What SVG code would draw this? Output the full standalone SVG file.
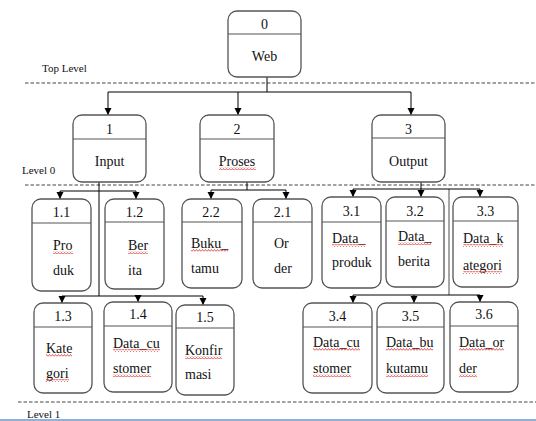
<svg xmlns="http://www.w3.org/2000/svg" width="536" height="421" viewBox="0 0 536 421" font-family="'Liberation Serif', 'DejaVu Serif', serif">
<style>
.box{fill:#fff;stroke:#555;stroke-width:1.3}
.div{stroke:#555;stroke-width:1.2}
.t{font-family:'Liberation Serif','DejaVu Serif',serif;font-size:14px;fill:#111}
.c{text-anchor:middle}
.lv{font-family:'Liberation Serif','DejaVu Serif',serif;font-size:11px;fill:#111}
.dash{stroke:#444;stroke-width:1;stroke-dasharray:3.5 2;fill:none}
.con{stroke:#000;stroke-width:1;fill:none}
.arr{stroke:#000;stroke-width:1;fill:none;marker-end:url(#ah)}
.gray{stroke:#888;stroke-width:1.5;fill:none}
.wv{fill:url(#wave)}
</style>
<defs>
<marker id="ah" markerUnits="userSpaceOnUse" markerWidth="8" markerHeight="8" refX="7" refY="3.5" orient="auto">
<path d="M0,0 L7,3.5 L0,7 z" fill="#000"/>
</marker>
<pattern id="wave" patternUnits="userSpaceOnUse" width="3" height="3">
<path d="M0,2.5 L1.5,0.5 L3,2.5" stroke="#e03030" stroke-width="0.8" fill="none"/>
</pattern>
</defs>
<rect width="536" height="421" fill="#fff"/>

<g id="levels">
<line class="dash" x1="25" y1="83" x2="536" y2="83"/>
<line class="dash" x1="25" y1="185" x2="536" y2="185"/>
<line class="dash" x1="18" y1="402" x2="536" y2="402"/>
<text class="lv" x="42" y="72">Top Level</text>
<text class="lv" x="22" y="174">Level 0</text>
<text class="lv" x="27" y="418">Level 1</text>
<line x1="0" y1="420" x2="536" y2="420" stroke="#6f94cc" stroke-width="1.5"/>
</g>

<g id="connectors">
<path class="con" d="M267 77V92M108 92H411"/>
<path class="arr" d="M108 92V115"/>
<path class="arr" d="M238 92V115"/>
<path class="arr" d="M411 92V115"/>
<path class="con" d="M99 182V296M60 191H136M62 296H203"/>
<path class="arr" d="M60 191V199"/>
<path class="arr" d="M136 191V199"/>
<path class="arr" d="M62 296V303"/>
<path class="arr" d="M138 296V302"/>
<path class="arr" d="M203 296V305"/>
<path class="con" d="M247 182V190M211 190H286"/>
<path class="arr" d="M211 190V199"/>
<path class="arr" d="M286 190V199"/>
<path class="gray" d="M449 189V295"/>
<path class="con" d="M353 189H480M353 295H480"/>
<path class="arr" d="M421 182V197"/>
<path class="arr" d="M353 189V197"/>
<path class="arr" d="M480 189V197"/>
<path class="arr" d="M353 295V303"/>
<path class="arr" d="M414 295V303"/>
<path class="arr" d="M480 295V302"/>
</g>

<g id="n0"><rect class="box" x="228" y="11" width="73" height="66" rx="9"/><line class="div" x1="228" y1="34" x2="301" y2="34"/><text class="t c" x="264.5" y="29">0</text><text class="t c" x="264.5" y="61">Web</text></g>
<g id="n1"><rect class="box" x="73" y="115" width="73" height="67" rx="9"/><line class="div" x1="73" y1="139" x2="146" y2="139"/><text class="t c" x="109.5" y="134">1</text><text class="t c" x="109.5" y="166">Input</text></g>
<g id="n2"><rect class="box" x="200" y="115" width="74" height="67" rx="9"/><line class="div" x1="200" y1="139" x2="274" y2="139"/><text class="t c" x="237" y="134">2</text><text class="t c" x="237" y="166">Proses</text><rect class="wv" x="219" y="167" width="37" height="3"/></g>
<g id="n3"><rect class="box" x="372" y="115" width="73" height="67" rx="9"/><line class="div" x1="372" y1="138" x2="445" y2="138"/><text class="t c" x="408.5" y="134">3</text><text class="t c" x="408.5" y="166">Output</text></g>

<g id="n1_1"><rect class="box" x="32" y="199" width="59" height="92" rx="9"/><line class="div" x1="32" y1="223" x2="91" y2="223"/><text class="t c" x="61.5" y="217">1.1</text><text class="t" x="53" y="250">Pro</text><text class="t" x="53" y="275">duk</text><rect class="wv" x="53" y="251" width="20" height="3"/></g>
<g id="n1_2"><rect class="box" x="105" y="199" width="59" height="90" rx="9"/><line class="div" x1="105" y1="222" x2="164" y2="222"/><text class="t c" x="134.5" y="217">1.2</text><text class="t" x="128" y="250">Ber</text><text class="t" x="128" y="275">ita</text><rect class="wv" x="128" y="251" width="20" height="3"/></g>
<g id="n2_2"><rect class="box" x="182" y="199" width="60" height="89" rx="9"/><line class="div" x1="182" y1="222" x2="242" y2="222"/><text class="t c" x="211" y="217">2.2</text><text class="t" x="191" y="248">Buku_</text><text class="t" x="191" y="273">tamu</text><rect class="wv" x="191" y="249" width="37" height="3"/></g>
<g id="n2_1"><rect class="box" x="253" y="199" width="59" height="89" rx="9"/><line class="div" x1="253" y1="222" x2="312" y2="222"/><text class="t c" x="282.5" y="217">2.1</text><text class="t" x="274" y="248">Or</text><text class="t" x="274" y="273">der</text></g>

<g id="n3_1"><rect class="box" x="322" y="197" width="59" height="91" rx="9"/><line class="div" x1="322" y1="222" x2="381" y2="222"/><text class="t c" x="351.5" y="216">3.1</text><text class="t" x="332" y="243">Data_</text><text class="t" x="332" y="267">produk</text><rect class="wv" x="332" y="244" width="33" height="3"/></g>
<g id="n3_2"><rect class="box" x="386" y="197" width="58" height="90" rx="9"/><line class="div" x1="386" y1="221" x2="444" y2="221"/><text class="t c" x="415" y="216">3.2</text><text class="t" x="398" y="241">Data_</text><text class="t" x="398" y="266">berita</text><rect class="wv" x="398" y="242" width="33" height="3"/></g>
<g id="n3_3"><rect class="box" x="453" y="197" width="65" height="90" rx="9"/><line class="div" x1="453" y1="221" x2="518" y2="221"/><text class="t c" x="485.5" y="216">3.3</text><text class="t" x="463" y="243">Data_k</text><text class="t" x="463" y="270">ategori</text><rect class="wv" x="463" y="244" width="40" height="3"/><rect class="wv" x="463" y="271" width="39" height="3"/></g>

<g id="n1_3"><rect class="box" x="34" y="303" width="58" height="90" rx="9"/><line class="div" x1="34" y1="327" x2="92" y2="327"/><text class="t c" x="63" y="321">1.3</text><text class="t" x="46" y="353">Kate</text><text class="t" x="46" y="378">gori</text><rect class="wv" x="46" y="354" width="26" height="3"/><rect class="wv" x="46" y="379" width="23" height="3"/></g>
<g id="n1_4"><rect class="box" x="104" y="302" width="68" height="90" rx="9"/><line class="div" x1="104" y1="326" x2="172" y2="326"/><text class="t c" x="138" y="319">1.4</text><text class="t" x="113" y="348">Data_cu</text><text class="t" x="113" y="373">stomer</text><rect class="wv" x="113" y="349" width="47" height="3"/><rect class="wv" x="113" y="374" width="38" height="3"/></g>
<g id="n1_5"><rect class="box" x="176" y="305" width="58" height="90" rx="9"/><line class="div" x1="176" y1="328" x2="234" y2="328"/><text class="t c" x="205" y="322">1.5</text><text class="t" x="185" y="355">Konfir</text><text class="t" x="185" y="379">masi</text><rect class="wv" x="185" y="356" width="37" height="3"/></g>

<g id="n3_4"><rect class="box" x="303" y="303" width="69" height="90" rx="9"/><line class="div" x1="303" y1="327" x2="372" y2="327"/><text class="t c" x="337.5" y="321">3.4</text><text class="t" x="313" y="347">Data_cu</text><text class="t" x="313" y="373">stomer</text><rect class="wv" x="313" y="348" width="47" height="3"/><rect class="wv" x="313" y="374" width="38" height="3"/></g>
<g id="n3_5"><rect class="box" x="377" y="303" width="67" height="90" rx="9"/><line class="div" x1="377" y1="327" x2="444" y2="327"/><text class="t c" x="410.5" y="321">3.5</text><text class="t" x="386" y="347">Data_bu</text><text class="t" x="386" y="373">kutamu</text><rect class="wv" x="386" y="348" width="47" height="3"/><rect class="wv" x="386" y="374" width="42" height="3"/></g>
<g id="n3_6"><rect class="box" x="450" y="302" width="68" height="90" rx="9"/><line class="div" x1="450" y1="326" x2="518" y2="326"/><text class="t c" x="484" y="319">3.6</text><text class="t" x="459" y="347">Data_or</text><text class="t" x="459" y="373">der</text><rect class="wv" x="459" y="348" width="45" height="3"/><rect class="wv" x="459" y="374" width="18" height="3"/></g>
</svg>
